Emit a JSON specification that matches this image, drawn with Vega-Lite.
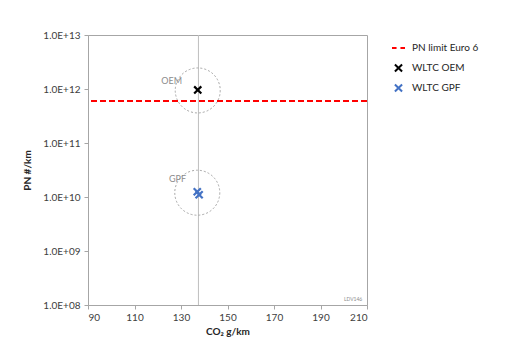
{
  "$schema": "https://vega.github.io/schema/vega-lite/v6.json",
  "width": 279,
  "height": 270,
  "autosize": {"type": "none"},
  "padding": {"left": 88, "top": 35, "right": 152, "bottom": 40},
  "background": "white",
  "config": {
    "font": "Lato",
    "view": {"stroke": "#a6a6a6", "strokeWidth": 1},
    "axis": {"grid": false, "domainColor": "#a6a6a6", "tickColor": "#a6a6a6", "labelColor": "#404040", "labelFontSize": 10, "titleColor": "#262626", "titleFontSize": 10, "titleFontWeight": "bold", "labelFont": "Lato", "titleFont": "Lato", "tickSize": 4}
  },
  "datasets": {
    "points": [
      {"co2": 137.2, "pn": 9.6e11, "series": "WLTC OEM"},
      {"co2": 137.0, "pn": 1.25e10, "series": "WLTC GPF"},
      {"co2": 137.8, "pn": 1.1e10, "series": "WLTC GPF"}
    ],
    "limit": [{"pn": 6e11, "series": "PN limit Euro 6"}],
    "circles": [
      {"co2": 137.2, "pn": 9.4e11},
      {"co2": 137.0, "pn": 1.2e10}
    ],
    "labels": [
      {"co2": 126, "pn": 1.4e12, "text": "OEM"},
      {"co2": 128.5, "pn": 2.2e10, "text": "GPF"}
    ],
    "note": [{"co2": 204, "pn": 1.3e8, "text": "LDV146"}],
    "vline": [{"co2": 137.5}]
  },
  "layer": [
    {
      "data": {"name": "vline"},
      "mark": {"type": "rule", "color": "#bfbfbf", "strokeWidth": 1},
      "encoding": {"x": {"field": "co2", "type": "quantitative"}}
    },
    {
      "data": {"name": "circles"},
      "mark": {"type": "point", "shape": "circle", "size": 2025, "filled": false, "stroke": "#a6a6a6", "strokeWidth": 1, "strokeDash": [2, 2], "opacity": 1},
      "encoding": {
        "x": {"field": "co2", "type": "quantitative"},
        "y": {"field": "pn", "type": "quantitative"}
      }
    },
    {
      "data": {"name": "labels"},
      "mark": {"type": "text", "color": "#8c8c8c", "fontSize": 9, "font": "Lato"},
      "encoding": {
        "x": {"field": "co2", "type": "quantitative"},
        "y": {"field": "pn", "type": "quantitative"},
        "text": {"field": "text"}
      }
    },
    {
      "data": {"name": "note"},
      "mark": {"type": "text", "color": "#8c8c8c", "fontSize": 5, "font": "Lato"},
      "encoding": {
        "x": {"field": "co2", "type": "quantitative"},
        "y": {"field": "pn", "type": "quantitative"},
        "text": {"field": "text"}
      }
    },
    {
      "data": {"name": "limit"},
      "mark": {"type": "rule", "strokeWidth": 2, "strokeDash": [6, 3]},
      "encoding": {
        "y": {"field": "pn", "type": "quantitative"},
        "color": {"field": "series", "type": "nominal"}
      }
    },
    {
      "data": {"name": "points"},
      "mark": {"type": "point", "filled": false, "strokeWidth": 2.2, "size": 169, "opacity": 1},
      "encoding": {
        "x": {"field": "co2", "type": "quantitative", "scale": {"domain": [90, 210], "nice": false, "zero": false}, "axis": {"values": [90, 110, 130, 150, 170, 190, 210], "title": "CO₂ g/km", "titlePadding": 4, "labelPadding": 3}},
        "y": {"field": "pn", "type": "quantitative", "scale": {"type": "log", "domain": [1e8, 1e13], "nice": false}, "axis": {"values": [1e8, 1e9, 1e10, 1e11, 1e12, 1e13], "labelExpr": "'1.0E+' + (round(log(datum.value)/LN10) < 10 ? '0' : '') + round(log(datum.value)/LN10)", "title": "PN #/km", "titlePadding": 10, "labelPadding": 4}},
        "color": {"field": "series", "type": "nominal", "scale": {"domain": ["PN limit Euro 6", "WLTC OEM", "WLTC GPF"], "range": ["#ff0000", "#000000", "#4472c4"]}, "legend": {"title": null, "orient": "none", "legendX": 303, "legendY": 6, "labelFontSize": 10, "labelColor": "#262626", "labelFont": "Lato", "symbolSize": 169, "symbolStrokeWidth": 2, "rowPadding": 6, "clipHeight": 14, "labelOffset": 6}},
        "shape": {"field": "series", "type": "nominal", "scale": {"domain": ["PN limit Euro 6", "WLTC OEM", "WLTC GPF"], "range": ["M-1,0H-0.3M0.3,0H1", "M-0.55,-0.55L0.55,0.55M-0.55,0.55L0.55,-0.55", "M-0.55,-0.55L0.55,0.55M-0.55,0.55L0.55,-0.55"]}, "legend": {"title": null, "orient": "none", "legendX": 303, "legendY": 6}}
      }
    }
  ]
}
